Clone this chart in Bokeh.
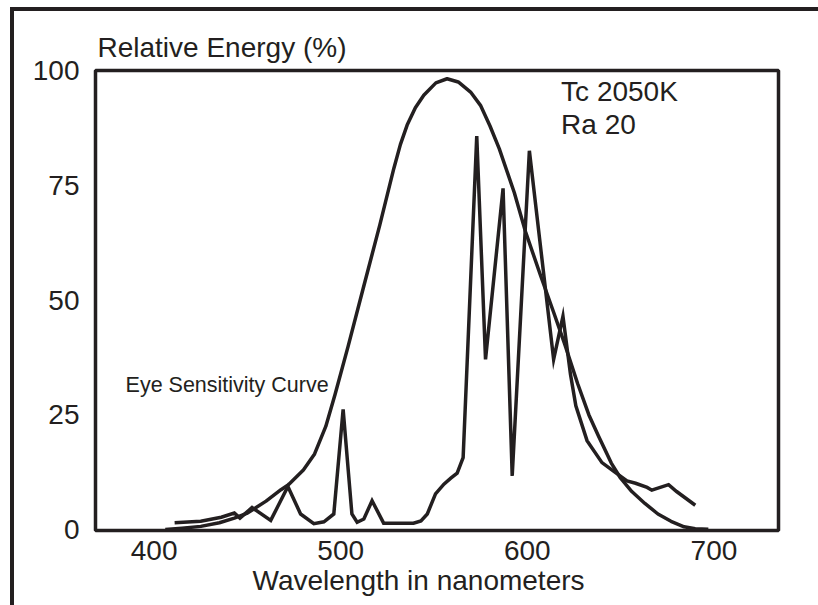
from bokeh.plotting import figure
from bokeh.models import Range1d, FixedTicker, Label, Title
from bokeh.embed import file_html
from bokeh.resources import INLINE

INK = "#231f20"
FONT = "Liberation Sans"

# ---- data ----
x_ticks = [400, 500, 600, 700]
y_ticks = [0, 25, 50, 75, 100]

eye_nm = [406, 415, 425, 435, 443, 450, 460, 468, 472, 480, 486, 492, 497,
          504, 512, 521, 528.5, 532, 535.6, 540, 544.5, 551, 557, 563, 569.6,
          574.9, 580, 585, 593, 599, 607, 614, 620, 627, 633, 638, 645, 650,
          656, 663, 670, 677, 684, 690, 697]
eye_val = [0, 0.3, 0.7, 1.5, 2.5, 3.6, 6.2, 8.7, 9.8, 13, 16.5, 22.5, 29.5,
           40, 52.5, 66.5, 78.8, 84, 88.2, 92, 94.7, 97.4, 98.3, 97.6, 95.4,
           92.5, 88, 83, 73.5, 65, 55.5, 47.5, 40.5, 31.8, 25, 20.5, 14.5,
           11.2, 8.3, 5.7, 3.4, 1.8, 0.6, 0.2, 0.1]

spd_nm = [411, 425, 436, 443, 446, 452.5, 462.5, 471.7, 478.5, 485.6, 491,
          496.3, 501.3, 506, 508.8, 512.4, 516.8, 523, 539, 543, 546.4,
          548.5, 550.8, 555.3, 559, 562.4, 565.6, 572.9, 577.6, 587, 591.9,
          601.1, 614.1, 619.1, 623.1, 626, 632, 640, 646, 653.4, 658, 664.2,
          666.7, 675.7, 680, 690]
spd_val = [1.5, 1.8, 2.7, 3.6, 2.5, 4.8, 2.0, 9.4, 3.4, 1.3, 1.7,
           3.4, 26.2, 3.4, 1.6, 2.3, 6.3, 1.4, 1.4, 1.9, 3.4,
           5.5, 7.8, 9.9, 11.2, 12.3, 15.7, 85.8, 37.1, 74.4, 11.7,
           82.6, 37.1, 46.5, 33.9, 27, 19.4, 14.6, 12.8, 10.6, 10.1, 9.2,
           8.6, 9.8, 8.3, 5.3]

title_text = "Relative Energy (%)"
x_label = "Wavelength in nanometers"
lamp_lines = ["Tc 2050K", "Ra 20"]
eye_label = "Eye Sensitivity Curve"

p = figure(frame_width=683, frame_height=460,
           x_range=Range1d(368.6, 734.6), y_range=Range1d(-0.2, 100.1),
           output_backend="svg", toolbar_location=None,
           min_border_left=81, min_border_right=40,
           min_border_top=59, min_border_bottom=75)
p.styles = {"margin-left": "10px", "margin-top": "7px",
            "border-left": "4px solid " + INK, "border-top": "4px solid " + INK}

p.title.text = title_text
p.title.align = "left"
p.title.offset = 2
p.title.standoff = 15
p.title.text_font = FONT
p.title.text_font_size = "28px"
p.title.text_font_style = "normal"
p.title.text_color = INK

p.grid.visible = False
p.outline_line_color = INK
p.outline_line_width = 3.5
p.background_fill_color = "white"
p.border_fill_color = "white"

for ax in (p.xaxis[0], p.yaxis[0]):
    ax.axis_line_color = None
    ax.major_tick_line_color = None
    ax.minor_tick_line_color = None
    ax.major_tick_in = 0
    ax.major_tick_out = 0
    ax.major_label_text_font = FONT
    ax.major_label_text_font_size = "28px"
    ax.major_label_text_color = INK

p.xaxis.ticker = FixedTicker(ticks=x_ticks)
p.yaxis.ticker = FixedTicker(ticks=y_ticks)
p.xaxis.major_label_standoff = 10
p.yaxis.major_label_standoff = 16

xt = Title(text=x_label, align="left", offset=157, standoff=0,
           text_font=FONT, text_font_size="28px", text_font_style="normal",
           text_color=INK)
p.add_layout(xt, "below")

p.line(eye_nm, eye_val, line_width=3.5, line_color=INK, line_join="round")
p.line(spd_nm, spd_val, line_width=3.5, line_color=INK, line_join="miter")

p.add_layout(Label(x=618.1, y=95.5, text=lamp_lines[0], text_font=FONT,
                   text_font_size="28px", text_color=INK, text_baseline="alphabetic"))
p.add_layout(Label(x=618.1, y=88.3, text=lamp_lines[1], text_font=FONT,
                   text_font_size="28px", text_color=INK, text_baseline="alphabetic"))
p.add_layout(Label(x=384.7, y=31.6, text=eye_label, text_font=FONT,
                   text_font_size="21.5px", text_color=INK, text_baseline="alphabetic"))

open("out.html", "w").write(file_html(p, INLINE))
